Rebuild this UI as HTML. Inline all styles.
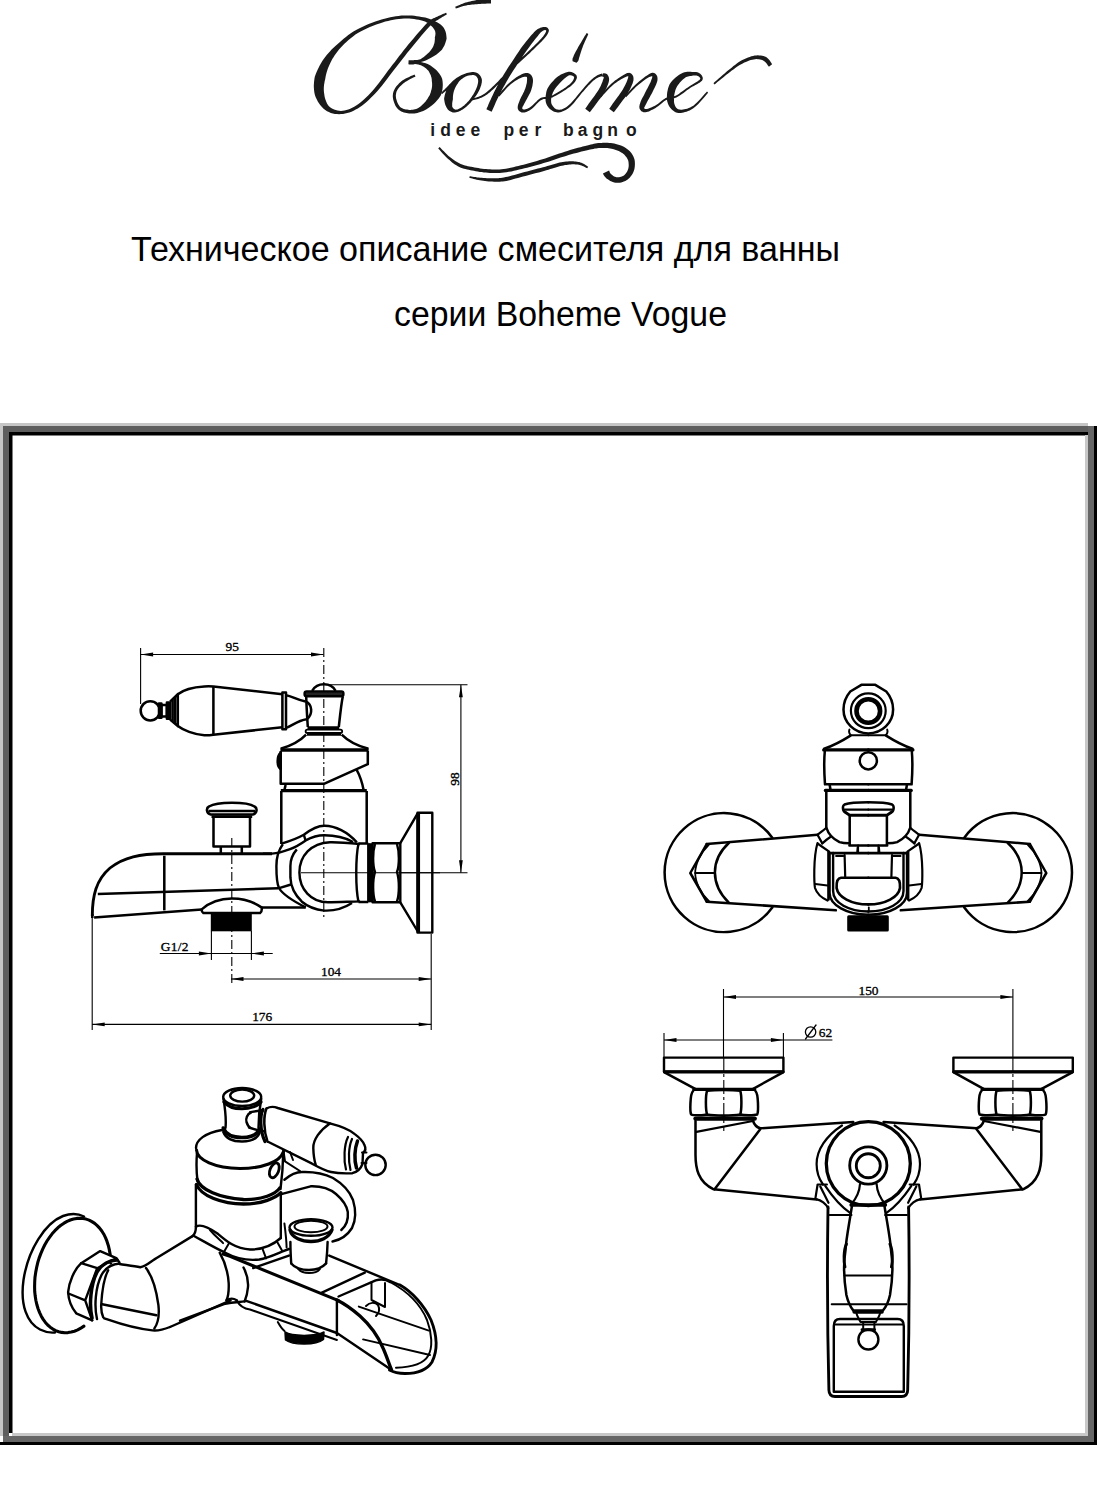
<!DOCTYPE html>
<html><head><meta charset="utf-8"><title>Boheme Vogue</title>
<style>
html,body{margin:0;padding:0;background:#fff;}
body{width:1097px;height:1500px;overflow:hidden;position:relative;font-family:"Liberation Sans",sans-serif;}
svg{position:absolute;left:0;top:0;}
.t{font-family:"Liberation Sans",sans-serif;fill:#000;}
.d{fill:none;stroke:#000;stroke-width:2;stroke-linejoin:round;stroke-linecap:round;}
.th{fill:none;stroke:#000;stroke-width:1;}
.dim{font-family:"Liberation Serif",serif;font-size:13px;fill:#000;}
</style></head>
<body>
<svg width="1097" height="1500" viewBox="0 0 1097 1500">
<!-- frame -->
<g id="frame">
<rect x="0" y="423" width="1088" height="3" fill="#c6c6c6"/>
<rect x="0" y="423" width="3" height="1013" fill="#c6c6c6"/>
<rect x="3" y="426" width="1091" height="6" fill="#5e5e5e"/>
<rect x="3" y="426" width="6" height="1016" fill="#5e5e5e"/>
<rect x="9" y="432" width="1079" height="3.5" fill="#000"/>
<rect x="9" y="432" width="3.5" height="1001" fill="#000"/>
<rect x="1085" y="435" width="3" height="1001" fill="#c8c8c8"/>
<rect x="12" y="1433" width="1076" height="3" fill="#c8c8c8"/>
<rect x="1088" y="426" width="6" height="1016" fill="#666"/>
<rect x="3" y="1436" width="1091" height="6" fill="#666"/>
<rect x="1094" y="426" width="3" height="1019" fill="#000"/>
<rect x="0" y="1442" width="1097" height="3" fill="#000"/>
</g>
<!-- titles -->
<text class="t" x="131" y="261" font-size="35" textLength="709" lengthAdjust="spacingAndGlyphs">Техническое описание смесителя для ванны</text>
<text class="t" x="394" y="325.5" font-size="35" textLength="333" lengthAdjust="spacingAndGlyphs">серии Boheme Vogue</text>
<g id="logo" fill="#1a1a1a" stroke="none">
<path d="M446.1,12.8 L445.4,13.0 L444.5,13.4 L443.5,13.8 L442.3,14.3 L441.0,14.9 L439.7,15.5 L438.4,16.1 L437.2,16.7 L436.2,17.1 L435.3,17.5 L434.4,17.9 L433.3,18.3 L432.1,19.0 L430.8,19.8 L429.3,21.0 L427.6,22.6 L425.6,24.6 L423.4,27.0 L421.0,29.7 L418.5,32.6 L415.9,35.6 L413.3,38.7 L410.7,41.7 L408.3,44.6 L406.0,47.4 L403.7,50.3 L401.5,53.2 L399.2,56.1 L397.0,59.0 L394.8,61.9 L392.5,64.8 L390.3,67.7 L388.1,70.6 L385.8,73.7 L383.6,76.7 L381.3,79.8 L379.1,82.7 L376.9,85.6 L374.7,88.3 L372.6,90.7 L370.5,93.0 L368.4,95.2 L366.3,97.3 L364.2,99.3 L362.2,101.1 L360.1,102.8 L358.1,104.3 L356.2,105.6 L354.2,106.8 L352.2,107.8 L350.2,108.7 L348.3,109.5 L346.4,110.0 L344.5,110.5 L342.7,110.8 L340.9,110.9 L339.2,110.8 L337.5,110.5 L335.7,110.0 L334.1,109.5 L332.5,108.8 L331.1,107.9 L329.8,107.0 L328.7,106.0 L327.8,104.8 L327.0,103.4 L326.3,101.8 L325.6,100.0 L325.0,98.2 L324.6,96.4 L324.3,94.6 L324.1,92.9 L323.9,91.4 L323.8,89.8 L323.8,88.1 L323.9,86.4 L324.1,84.6 L324.4,82.9 L324.7,81.0 L325.2,79.2 L325.5,77.3 L325.9,75.3 L326.4,73.3 L327.0,71.2 L327.7,69.1 L328.5,67.0 L329.4,65.0 L330.3,63.0 L331.3,61.0 L332.3,59.1 L333.5,57.2 L334.7,55.3 L336.0,53.4 L337.5,51.5 L339.0,49.6 L340.6,47.7 L342.5,45.8 L344.4,43.8 L346.4,41.9 L348.5,40.0 L350.7,38.2 L353.0,36.4 L355.4,34.6 L357.9,33.0 L360.6,31.5 L363.6,30.0 L366.7,28.5 L369.9,27.1 L373.1,25.8 L376.3,24.6 L379.5,23.5 L382.5,22.5 L385.3,21.6 L388.1,20.9 L390.9,20.3 L393.6,19.7 L396.3,19.3 L399.0,19.0 L401.5,18.7 L404.1,18.5 L406.6,18.5 L409.1,18.6 L411.6,18.8 L414.1,19.1 L416.4,19.4 L418.7,19.8 L420.7,20.3 L422.6,20.7 L424.2,21.2 L425.6,21.8 L426.7,22.4 L427.8,23.1 L428.7,23.7 L429.6,24.4 L430.5,25.2 L431.4,25.9 L432.2,26.8 L432.9,27.6 L433.6,28.4 L434.1,29.3 L434.6,30.1 L435.0,30.9 L435.2,31.6 L435.3,32.2 L435.4,32.8 L435.5,33.3 L435.4,33.9 L435.4,34.5 L435.3,35.2 L435.2,35.9 L435.0,36.7 L434.8,37.5 L434.9,38.3 L434.9,39.2 L434.8,40.1 L434.7,41.1 L434.6,42.0 L434.4,42.9 L434.2,43.8 L433.9,44.6 L433.6,45.5 L433.2,46.4 L432.8,47.3 L432.2,48.3 L431.5,49.3 L430.8,50.3 L430.0,51.2 L429.2,52.2 L428.3,53.1 L427.2,54.1 L426.1,55.1 L424.9,56.0 L423.8,56.9 L422.6,57.7 L421.5,58.5 L420.4,59.2 L419.4,59.5 L418.3,59.7 L417.3,59.9 L416.3,60.0 L415.4,60.1 L414.4,60.1 L413.6,60.2 L412.7,60.2 L412.1,60.3 L411.5,60.3 L410.9,60.3 L410.3,60.3 L409.8,60.3 L409.4,60.3 L408.9,60.3 L408.6,60.3 L408.4,64.3 L408.7,64.3 L409.1,64.4 L409.6,64.4 L410.2,64.5 L410.8,64.5 L411.6,64.5 L412.4,64.5 L413.3,64.4 L414.1,64.2 L415.0,64.0 L415.9,63.8 L417.0,63.5 L418.1,63.2 L419.2,62.8 L420.4,62.4 L421.6,61.8 L422.9,61.4 L424.3,60.9 L425.7,60.4 L427.2,59.7 L428.6,59.0 L430.1,58.3 L431.5,57.6 L432.8,56.8 L434.1,56.1 L435.3,55.3 L436.5,54.5 L437.7,53.6 L438.9,52.6 L440.0,51.6 L441.1,50.6 L442.1,49.4 L442.9,48.1 L443.7,46.8 L444.4,45.4 L445.0,44.0 L445.5,42.6 L445.9,41.2 L446.3,39.9 L446.6,38.5 L446.5,37.2 L446.4,35.9 L446.2,34.5 L446.0,33.2 L445.6,31.8 L445.1,30.4 L444.4,29.1 L443.7,27.8 L442.7,26.6 L441.7,25.6 L440.6,24.6 L439.5,23.8 L438.3,23.0 L437.1,22.3 L435.9,21.7 L434.6,21.1 L433.5,20.5 L432.3,19.9 L431.1,19.4 L429.8,18.9 L428.4,18.4 L426.9,18.0 L425.2,17.6 L423.4,17.3 L421.4,16.9 L419.2,16.5 L416.9,16.2 L414.4,15.8 L411.9,15.6 L409.3,15.4 L406.6,15.4 L403.9,15.5 L401.3,15.6 L398.6,15.9 L395.9,16.2 L393.1,16.7 L390.3,17.2 L387.4,17.9 L384.5,18.7 L381.5,19.5 L378.5,20.5 L375.3,21.6 L372.0,22.8 L368.6,24.1 L365.3,25.5 L362.1,26.9 L359.0,28.4 L356.1,30.0 L353.4,31.6 L350.8,33.3 L348.3,35.1 L345.9,36.9 L343.6,38.8 L341.4,40.7 L339.4,42.5 L337.4,44.3 L335.4,46.1 L333.5,47.8 L331.6,49.6 L329.9,51.4 L328.3,53.3 L326.7,55.1 L325.2,57.1 L323.7,59.0 L322.3,61.1 L321.0,63.3 L319.7,65.5 L318.6,67.7 L317.5,70.0 L316.5,72.2 L315.6,74.5 L314.8,76.8 L314.4,79.1 L314.1,81.4 L313.9,83.7 L313.8,86.0 L313.9,88.3 L314.1,90.6 L314.4,92.8 L314.9,95.1 L315.7,97.2 L316.7,99.3 L317.8,101.4 L319.1,103.4 L320.4,105.3 L321.9,107.1 L323.6,108.7 L325.3,110.0 L327.0,111.2 L328.9,112.1 L330.8,112.9 L332.8,113.5 L334.9,113.9 L337.0,114.1 L339.0,114.2 L341.1,114.1 L343.1,114.0 L345.1,113.6 L347.2,113.1 L349.3,112.5 L351.5,111.7 L353.6,110.7 L355.7,109.6 L357.8,108.4 L360.0,107.0 L362.2,105.4 L364.4,103.7 L366.5,101.9 L368.7,99.9 L370.9,97.8 L373.2,95.6 L375.4,93.3 L377.7,90.8 L380.0,88.0 L382.3,85.2 L384.6,82.2 L386.9,79.2 L389.1,76.2 L391.4,73.2 L393.7,70.3 L395.9,67.4 L398.2,64.5 L400.4,61.7 L402.7,58.8 L404.9,55.9 L407.1,53.0 L409.4,50.2 L411.7,47.4 L414.1,44.5 L416.6,41.4 L419.1,38.4 L421.7,35.3 L424.1,32.4 L426.5,29.7 L428.6,27.4 L430.4,25.4 L431.9,23.9 L433.1,22.8 L434.1,22.1 L435.0,21.5 L435.8,21.0 L436.7,20.5 L437.7,20.0 L438.8,19.3 L439.9,18.6 L441.0,17.9 L442.2,17.1 L443.4,16.4 L444.5,15.8 L445.4,15.2 L446.3,14.7 L446.9,14.2Z"/>
<path d="M409.9,63.6 L410.8,63.7 L412.1,63.9 L413.5,64.0 L415.1,64.1 L416.7,64.3 L418.3,64.6 L419.8,64.9 L421.0,65.3 L422.2,65.9 L423.3,66.5 L424.4,67.2 L425.5,68.0 L426.4,68.8 L427.3,69.7 L428.2,70.6 L428.9,71.5 L429.5,72.7 L430.1,73.9 L430.7,75.1 L431.1,76.4 L431.5,77.7 L431.7,78.9 L431.8,80.1 L431.8,81.1 L432.0,82.2 L432.1,83.4 L432.1,84.7 L432.1,86.1 L431.9,87.4 L431.7,88.7 L431.4,90.0 L431.0,91.1 L430.8,92.3 L430.3,93.5 L429.8,94.9 L429.0,96.2 L428.2,97.6 L427.4,99.0 L426.4,100.2 L425.6,101.5 L424.6,102.5 L423.7,103.6 L422.6,104.6 L421.6,105.5 L420.5,106.4 L419.4,107.2 L418.3,107.9 L417.3,108.5 L416.2,108.9 L415.0,109.2 L413.9,109.5 L412.8,109.7 L411.6,109.8 L410.5,109.9 L409.3,109.9 L408.2,109.8 L407.1,109.6 L405.9,109.5 L404.8,109.2 L403.7,108.9 L402.7,108.5 L401.7,108.1 L400.8,107.5 L400.1,106.9 L399.4,106.1 L398.7,105.1 L398.1,104.0 L397.5,102.7 L397.0,101.4 L396.6,100.1 L396.2,98.9 L396.0,97.8 L395.9,96.7 L395.8,95.8 L395.9,94.8 L396.0,93.9 L396.2,93.0 L396.4,92.1 L396.8,91.1 L397.2,90.2 L397.8,89.2 L398.5,88.3 L399.3,87.3 L400.2,86.3 L401.1,85.4 L402.1,84.4 L403.2,83.5 L404.3,82.7 L405.6,81.8 L407.0,80.9 L408.6,80.0 L410.3,79.1 L411.9,78.3 L413.3,77.6 L414.6,77.0 L415.5,76.5 L414.5,74.5 L413.6,74.9 L412.3,75.4 L410.8,76.1 L409.2,76.9 L407.4,77.7 L405.7,78.5 L404.1,79.4 L402.7,80.3 L401.4,81.3 L400.3,82.3 L399.1,83.3 L398.1,84.4 L397.1,85.5 L396.2,86.6 L395.4,87.7 L394.8,88.8 L394.2,89.9 L393.7,91.1 L393.3,92.2 L393.0,93.4 L392.9,94.5 L392.8,95.8 L392.8,97.0 L393.0,98.2 L393.2,99.6 L393.6,101.0 L394.1,102.4 L394.7,103.9 L395.3,105.4 L396.1,106.7 L397.0,108.0 L397.9,109.1 L399.0,110.0 L400.1,110.8 L401.3,111.5 L402.6,112.0 L403.9,112.4 L405.2,112.7 L406.5,113.0 L407.8,113.2 L409.1,113.4 L410.4,113.5 L411.7,113.6 L413.1,113.6 L414.5,113.4 L415.9,113.2 L417.3,112.9 L418.7,112.5 L420.2,112.1 L421.7,111.6 L423.2,111.0 L424.7,110.3 L426.1,109.5 L427.6,108.6 L429.1,107.6 L430.4,106.5 L431.8,105.5 L433.3,104.3 L434.7,103.0 L436.1,101.6 L437.4,100.1 L438.7,98.5 L439.9,96.7 L441.0,94.9 L441.6,92.9 L442.1,90.9 L442.5,88.9 L442.7,86.9 L442.8,84.8 L442.7,82.8 L442.5,80.8 L442.2,78.9 L441.4,77.0 L440.4,75.3 L439.4,73.7 L438.2,72.2 L437.0,70.8 L435.7,69.6 L434.4,68.5 L433.1,67.5 L431.8,66.5 L430.5,65.6 L429.1,64.8 L427.7,64.1 L426.3,63.6 L424.9,63.1 L423.4,62.7 L422.0,62.3 L420.4,62.0 L418.7,61.7 L417.0,61.6 L415.3,61.5 L413.6,61.4 L412.2,61.4 L411.0,61.4 L410.1,61.4Z"/>
<path d="M442.1,94.1 L442.5,93.8 L443.0,93.3 L443.6,92.8 L444.3,92.2 L445.1,91.6 L445.9,90.9 L446.8,90.1 L447.7,89.3 L448.7,88.4 L449.8,87.4 L450.9,86.3 L452.1,85.1 L453.3,84.0 L454.5,83.0 L455.7,82.0 L456.8,81.1 L458.0,80.3 L459.2,79.6 L460.4,78.9 L461.6,78.2 L462.9,77.6 L464.1,77.0 L465.3,76.6 L466.4,76.2 L467.6,75.8 L468.8,75.6 L470.1,75.3 L471.3,75.2 L472.4,75.1 L473.4,75.1 L474.3,75.2 L475.0,75.5 L475.6,75.8 L476.1,76.2 L476.7,76.7 L477.1,77.4 L477.5,78.0 L477.8,78.7 L478.0,79.5 L478.1,80.2 L478.2,81.0 L478.1,82.0 L478.0,83.1 L477.7,84.3 L477.4,85.5 L477.0,86.8 L476.5,88.1 L476.0,89.3 L475.4,90.5 L474.8,91.8 L474.1,93.1 L473.3,94.4 L472.5,95.6 L471.6,96.9 L470.8,98.1 L470.0,99.2 L469.2,100.2 L468.4,101.2 L467.5,102.1 L466.7,103.0 L465.9,103.8 L465.0,104.6 L464.2,105.4 L463.3,106.0 L462.3,106.7 L461.4,107.4 L460.4,108.0 L459.4,108.5 L458.4,109.0 L457.5,109.4 L456.6,109.6 L455.9,109.7 L455.2,109.5 L454.6,109.3 L454.0,108.9 L453.5,108.6 L453.0,108.1 L452.7,107.6 L452.4,107.1 L452.2,106.6 L452.2,106.0 L452.2,105.3 L452.2,104.4 L452.2,103.4 L452.3,102.4 L452.5,101.3 L452.7,100.2 L452.9,99.2 L452.9,98.2 L452.9,97.1 L453.0,96.0 L453.1,94.9 L453.3,93.8 L453.5,92.7 L453.8,91.6 L454.1,90.6 L454.5,89.5 L455.0,88.3 L455.6,87.0 L456.3,85.8 L457.0,84.6 L457.8,83.4 L458.5,82.3 L459.2,81.3 L460.0,80.5 L460.8,79.7 L461.7,79.1 L462.6,78.4 L463.5,77.8 L464.3,77.3 L465.0,76.9 L465.6,76.5 L464.4,74.5 L463.9,74.8 L463.1,75.1 L462.2,75.5 L461.2,76.0 L460.1,76.5 L459.0,77.2 L457.9,77.9 L456.8,78.7 L455.7,79.5 L454.5,80.4 L453.4,81.4 L452.2,82.5 L451.0,83.7 L449.9,84.9 L448.8,86.1 L447.9,87.4 L447.1,88.8 L446.4,90.2 L445.9,91.6 L445.4,93.1 L444.9,94.5 L444.6,96.0 L444.3,97.4 L444.1,98.8 L444.3,100.2 L444.5,101.6 L444.8,103.1 L445.2,104.5 L445.7,105.8 L446.3,107.1 L447.0,108.3 L447.8,109.4 L448.6,110.3 L449.6,111.1 L450.6,111.6 L451.7,112.1 L452.8,112.4 L453.9,112.5 L455.0,112.5 L456.1,112.3 L457.2,112.1 L458.3,111.8 L459.4,111.3 L460.5,110.7 L461.6,110.1 L462.7,109.4 L463.7,108.7 L464.7,108.0 L465.7,107.2 L466.6,106.4 L467.6,105.6 L468.5,104.8 L469.4,103.8 L470.3,102.9 L471.1,101.9 L472.0,100.8 L472.9,99.7 L473.9,98.5 L474.8,97.3 L475.8,96.0 L476.7,94.7 L477.5,93.4 L478.3,92.0 L479.0,90.7 L479.6,89.4 L480.2,88.0 L480.7,86.6 L481.2,85.2 L481.5,83.8 L481.8,82.4 L481.9,81.1 L481.9,79.8 L481.6,78.5 L481.2,77.4 L480.6,76.3 L479.9,75.3 L479.1,74.4 L478.1,73.6 L477.1,73.0 L476.0,72.5 L474.8,72.2 L473.6,72.1 L472.3,72.1 L470.9,72.2 L469.6,72.4 L468.2,72.7 L466.9,73.1 L465.6,73.4 L464.3,73.9 L463.0,74.4 L461.6,75.0 L460.3,75.7 L459.0,76.4 L457.7,77.2 L456.4,78.0 L455.2,78.9 L453.9,79.9 L452.7,81.0 L451.5,82.2 L450.3,83.4 L449.2,84.6 L448.2,85.7 L447.2,86.8 L446.3,87.7 L445.4,88.6 L444.6,89.4 L443.8,90.1 L443.1,90.8 L442.4,91.5 L441.8,92.0 L441.3,92.5 L440.9,92.9Z"/>
<path d="M472.2,100.4 L472.9,100.3 L473.7,100.1 L474.7,99.8 L475.8,99.6 L476.9,99.3 L478.1,98.9 L479.3,98.5 L480.4,98.1 L481.4,97.7 L482.3,97.3 L483.2,96.8 L484.2,96.3 L485.1,95.7 L486.1,95.1 L487.1,94.4 L488.2,93.6 L489.3,92.7 L490.5,91.7 L491.7,90.5 L493.0,89.4 L494.3,88.2 L495.5,87.0 L496.7,85.8 L497.8,84.8 L498.7,83.8 L499.6,82.8 L500.4,82.0 L501.2,81.1 L502.0,80.2 L502.8,79.3 L503.7,78.3 L504.8,77.2 L505.9,76.1 L507.1,74.9 L508.3,73.6 L509.5,72.3 L510.9,70.9 L512.3,69.5 L513.8,68.0 L515.4,66.4 L517.2,64.6 L519.2,62.8 L521.3,60.8 L523.5,58.8 L525.7,56.8 L527.8,54.8 L529.9,52.9 L531.7,51.1 L533.5,49.4 L535.2,47.7 L536.9,46.1 L538.5,44.6 L540.0,43.1 L541.4,41.7 L542.7,40.3 L543.9,39.0 L544.9,37.8 L545.8,36.7 L546.5,35.7 L547.2,34.7 L547.7,33.8 L548.2,32.9 L548.5,32.1 L548.8,31.2 L548.9,30.3 L548.7,29.4 L548.2,28.7 L547.7,28.1 L547.1,27.6 L546.4,27.3 L545.8,27.1 L545.2,27.0 L544.5,26.9 L543.7,26.9 L543.0,27.0 L542.3,27.2 L541.6,27.4 L540.8,27.6 L540.1,27.9 L539.5,28.3 L538.9,28.5 L538.3,28.8 L537.7,29.1 L537.1,29.5 L536.5,30.0 L535.8,30.6 L535.0,31.3 L534.0,32.3 L533.0,33.4 L531.7,34.8 L530.4,36.3 L529.0,38.0 L527.6,39.7 L526.1,41.6 L524.6,43.4 L523.2,45.2 L521.8,47.1 L520.4,49.1 L519.0,51.2 L517.6,53.2 L516.2,55.3 L514.8,57.4 L513.5,59.4 L512.2,61.4 L511.0,63.2 L509.8,65.0 L508.6,66.8 L507.5,68.6 L506.3,70.4 L505.2,72.2 L504.1,74.1 L502.9,76.0 L501.8,78.0 L500.6,80.0 L499.4,82.1 L498.3,84.2 L497.1,86.3 L496.0,88.4 L494.9,90.6 L493.8,92.7 L492.8,94.9 L491.7,97.3 L490.6,99.7 L489.5,102.1 L488.5,104.3 L487.7,106.4 L486.9,108.1 L486.4,109.3 L491.6,111.7 L492.2,110.4 L493.0,108.7 L493.9,106.7 L494.9,104.5 L495.9,102.1 L497.0,99.8 L498.1,97.5 L499.2,95.3 L500.2,93.3 L501.3,91.2 L502.4,89.1 L503.5,87.1 L504.7,85.0 L505.8,83.0 L506.9,81.0 L508.1,79.0 L509.2,77.1 L510.3,75.3 L511.4,73.6 L512.5,71.8 L513.6,70.1 L514.8,68.3 L516.0,66.5 L517.2,64.6 L518.5,62.7 L519.8,60.7 L521.2,58.6 L522.5,56.6 L523.9,54.5 L525.3,52.5 L526.7,50.6 L528.0,48.8 L529.3,46.9 L530.7,45.1 L532.0,43.3 L533.4,41.5 L534.7,39.8 L535.9,38.3 L537.0,36.9 L538.0,35.7 L538.7,34.8 L539.3,34.0 L539.8,33.5 L540.1,33.1 L540.4,32.7 L540.7,32.4 L541.1,32.1 L541.5,31.7 L542.0,31.4 L542.5,31.1 L543.0,30.8 L543.5,30.5 L543.9,30.3 L544.3,30.2 L544.6,30.1 L544.8,30.0 L545.1,30.1 L545.4,30.1 L545.7,30.2 L545.9,30.3 L546.1,30.4 L546.2,30.5 L546.2,30.5 L546.2,30.8 L546.1,31.2 L545.9,31.9 L545.6,32.6 L545.1,33.4 L544.6,34.3 L543.9,35.3 L543.1,36.4 L542.1,37.6 L541.1,38.8 L539.8,40.1 L538.5,41.5 L537.0,43.0 L535.4,44.6 L533.7,46.2 L532.0,47.8 L530.3,49.5 L528.4,51.3 L526.4,53.2 L524.2,55.2 L522.0,57.2 L519.9,59.3 L517.8,61.2 L515.8,63.1 L514.0,64.8 L512.3,66.4 L510.8,68.0 L509.4,69.4 L508.0,70.8 L506.7,72.1 L505.5,73.4 L504.4,74.6 L503.2,75.8 L502.2,76.9 L501.3,77.9 L500.4,78.8 L499.6,79.7 L498.9,80.5 L498.1,81.4 L497.2,82.3 L496.2,83.2 L495.2,84.3 L494.0,85.4 L492.8,86.6 L491.6,87.8 L490.3,89.0 L489.1,90.1 L487.9,91.1 L486.8,92.0 L485.8,92.7 L484.9,93.4 L484.0,94.0 L483.1,94.5 L482.3,95.0 L481.4,95.4 L480.5,95.9 L479.6,96.3 L478.6,96.7 L477.6,97.0 L476.4,97.4 L475.3,97.7 L474.2,98.0 L473.2,98.2 L472.4,98.4 L471.8,98.6Z"/>
<path d="M499.2,96.6 L500.0,95.7 L501.1,94.5 L502.4,93.0 L503.8,91.4 L505.3,89.7 L506.8,88.0 L508.3,86.5 L509.7,85.2 L511.0,84.1 L512.4,83.1 L513.7,82.0 L515.1,81.1 L516.4,80.2 L517.7,79.4 L518.9,78.7 L520.1,78.2 L521.2,77.7 L522.3,77.3 L523.4,77.0 L524.3,76.8 L525.2,76.7 L525.9,76.7 L526.4,76.8 L526.7,76.9 L526.9,77.1 L526.9,77.3 L527.0,77.6 L527.0,77.9 L527.1,78.3 L527.1,78.8 L527.1,79.5 L527.0,80.1 L527.0,80.9 L526.9,81.8 L526.8,82.9 L526.5,84.0 L526.2,85.2 L525.9,86.5 L525.5,87.7 L525.1,88.9 L524.6,90.1 L524.1,91.4 L523.4,92.8 L522.7,94.3 L521.9,95.7 L521.2,97.1 L520.5,98.5 L519.9,99.8 L519.5,100.9 L519.1,102.0 L518.7,103.0 L518.3,104.0 L518.0,105.0 L517.8,106.1 L517.7,107.1 L517.7,108.2 L518.0,109.2 L518.5,110.2 L519.1,110.9 L519.9,111.6 L520.7,112.1 L521.6,112.4 L522.5,112.5 L523.5,112.5 L524.4,112.4 L525.3,112.2 L526.3,111.9 L527.3,111.5 L528.4,111.0 L529.4,110.4 L530.5,109.7 L531.6,108.9 L532.8,107.9 L534.1,106.8 L535.3,105.5 L536.6,104.1 L537.9,102.8 L539.2,101.6 L540.4,100.6 L541.5,99.9 L542.5,99.4 L543.5,99.1 L544.5,99.0 L545.6,99.0 L546.8,98.9 L548.0,98.8 L549.4,98.6 L550.8,98.1 L552.4,97.4 L554.0,96.6 L555.7,95.7 L557.5,94.7 L559.2,93.7 L560.9,92.7 L562.5,91.7 L564.0,90.8 L565.4,89.9 L566.7,89.0 L568.0,88.1 L569.3,87.2 L570.4,86.4 L571.5,85.5 L572.5,84.6 L573.3,83.8 L574.1,82.9 L574.8,82.0 L575.4,81.2 L575.9,80.3 L576.3,79.5 L576.7,78.6 L576.9,77.8 L576.9,76.9 L576.7,75.9 L576.3,75.1 L575.7,74.5 L575.1,73.9 L574.4,73.5 L573.8,73.1 L573.1,72.8 L572.6,72.6 L572.0,72.3 L571.5,72.1 L570.9,71.9 L570.2,71.7 L569.4,71.7 L568.6,71.8 L567.7,71.9 L566.8,72.2 L565.8,72.5 L564.6,72.9 L563.4,73.4 L562.2,74.0 L560.9,74.6 L559.5,75.4 L558.2,76.3 L556.9,77.2 L555.7,78.3 L554.4,79.5 L553.2,80.9 L551.9,82.3 L550.6,83.7 L549.5,85.3 L548.4,86.9 L547.5,88.6 L546.8,90.3 L546.3,92.1 L546.0,93.9 L545.7,95.7 L545.5,97.5 L545.5,99.2 L545.6,100.9 L545.9,102.5 L546.4,104.0 L547.1,105.4 L548.0,106.7 L548.9,107.9 L549.9,108.9 L551.0,109.8 L552.0,110.6 L553.1,111.2 L554.2,111.7 L555.3,112.1 L556.5,112.3 L557.7,112.4 L558.8,112.4 L560.0,112.2 L561.2,111.9 L562.3,111.6 L563.5,111.1 L564.6,110.6 L565.8,110.0 L566.9,109.2 L568.1,108.4 L569.3,107.4 L570.5,106.4 L571.7,105.2 L573.0,103.9 L574.3,102.4 L575.6,100.8 L577.0,99.1 L578.3,97.4 L579.7,95.7 L581.0,94.1 L582.2,92.6 L583.5,91.2 L584.7,89.7 L586.0,88.3 L587.2,86.9 L588.4,85.6 L589.6,84.4 L590.7,83.2 L591.7,82.2 L592.7,81.3 L593.5,80.6 L594.4,79.9 L595.2,79.3 L595.9,78.8 L596.6,78.3 L597.4,77.9 L598.0,77.5 L598.7,77.2 L599.4,76.9 L600.1,76.7 L600.7,76.6 L601.4,76.4 L602.0,76.3 L602.5,76.3 L602.9,76.2 L602.1,73.4 L601.8,73.6 L601.3,73.7 L600.7,73.9 L600.1,74.1 L599.3,74.4 L598.5,74.7 L597.7,75.1 L597.0,75.5 L596.2,76.0 L595.5,76.5 L594.7,77.0 L593.9,77.6 L593.1,78.3 L592.2,79.0 L591.3,79.8 L590.3,80.8 L589.2,81.8 L588.1,83.0 L587.0,84.3 L585.8,85.6 L584.5,87.0 L583.3,88.5 L582.0,89.9 L580.8,91.4 L579.5,92.9 L578.2,94.5 L576.8,96.2 L575.5,97.9 L574.1,99.6 L572.8,101.1 L571.5,102.6 L570.3,103.8 L569.1,104.8 L568.0,105.8 L566.8,106.7 L565.7,107.4 L564.7,108.1 L563.7,108.6 L562.6,109.1 L561.7,109.4 L560.7,109.6 L559.7,109.7 L558.8,109.7 L557.9,109.6 L557.0,109.4 L556.3,109.2 L555.5,108.8 L554.9,108.4 L554.2,107.8 L553.6,107.1 L552.9,106.2 L552.3,105.3 L551.8,104.4 L551.4,103.4 L551.2,102.4 L551.1,101.5 L551.1,100.5 L551.1,99.3 L551.3,98.0 L551.6,96.7 L551.9,95.3 L552.4,93.9 L552.9,92.6 L553.5,91.4 L554.1,90.3 L554.9,89.0 L555.8,87.7 L556.8,86.4 L557.9,85.2 L559.0,83.9 L560.1,82.8 L561.1,81.8 L562.0,80.8 L562.9,79.9 L563.9,79.0 L564.8,78.2 L565.8,77.5 L566.7,76.8 L567.5,76.2 L568.2,75.8 L568.8,75.5 L569.3,75.3 L569.6,75.2 L569.9,75.2 L570.2,75.2 L570.6,75.2 L571.0,75.3 L571.4,75.4 L571.9,75.6 L572.4,75.8 L572.9,76.1 L573.3,76.3 L573.7,76.6 L573.9,76.8 L574.0,77.0 L574.1,77.1 L574.1,77.4 L574.0,77.9 L573.9,78.5 L573.6,79.2 L573.3,79.9 L572.8,80.7 L572.3,81.5 L571.7,82.2 L570.9,83.0 L570.1,83.9 L569.1,84.7 L568.0,85.6 L566.8,86.5 L565.6,87.4 L564.3,88.3 L563.0,89.2 L561.5,90.1 L560.0,91.1 L558.3,92.1 L556.6,93.1 L554.8,94.1 L553.2,94.9 L551.6,95.7 L550.2,96.3 L548.9,96.7 L547.8,96.9 L546.7,97.0 L545.5,97.0 L544.4,97.1 L543.1,97.2 L541.9,97.5 L540.5,98.1 L539.2,99.0 L537.8,100.1 L536.5,101.4 L535.1,102.7 L533.8,104.0 L532.6,105.2 L531.4,106.3 L530.4,107.1 L529.3,107.7 L528.3,108.3 L527.3,108.7 L526.4,109.0 L525.5,109.3 L524.7,109.4 L524.0,109.5 L523.5,109.5 L523.1,109.3 L522.8,109.2 L522.6,108.9 L522.4,108.7 L522.3,108.4 L522.2,108.2 L522.2,108.0 L522.3,107.8 L522.3,107.6 L522.5,107.2 L522.7,106.6 L523.1,106.0 L523.5,105.2 L524.0,104.3 L524.5,103.3 L525.1,102.2 L525.7,101.1 L526.3,99.9 L527.1,98.5 L527.9,97.1 L528.7,95.6 L529.5,94.1 L530.3,92.6 L530.9,91.1 L531.4,89.6 L531.8,88.1 L532.2,86.7 L532.5,85.2 L532.7,83.8 L532.9,82.4 L533.0,81.1 L533.0,79.9 L532.8,78.7 L532.5,77.6 L532.0,76.6 L531.5,75.6 L530.8,74.7 L530.0,74.0 L529.0,73.4 L527.9,73.1 L526.7,72.9 L525.6,73.0 L524.6,73.3 L523.5,73.6 L522.3,74.0 L521.2,74.6 L520.1,75.2 L518.9,75.8 L517.7,76.5 L516.4,77.3 L515.1,78.2 L513.8,79.2 L512.4,80.3 L511.0,81.4 L509.7,82.5 L508.3,83.8 L506.9,85.1 L505.4,86.7 L503.9,88.4 L502.4,90.1 L500.9,91.7 L499.7,93.2 L498.6,94.5 L497.8,95.4Z"/>
<path d="M602.1,76.2 L602.4,76.4 L602.8,76.6 L603.2,76.7 L603.5,76.9 L603.7,77.1 L603.9,77.3 L603.8,77.4 L603.6,77.4 L603.6,77.5 L603.7,77.8 L603.6,78.0 L603.6,78.2 L603.6,78.4 L603.5,78.7 L603.3,79.1 L603.1,79.8 L602.8,80.6 L602.5,81.7 L602.0,82.8 L601.5,84.1 L600.9,85.4 L600.3,86.8 L599.6,88.1 L598.8,89.4 L598.0,90.8 L597.0,92.3 L595.9,93.8 L594.8,95.4 L593.7,96.9 L592.5,98.4 L591.4,99.9 L590.5,101.2 L589.6,102.4 L588.8,103.6 L588.0,104.7 L587.3,105.7 L586.7,106.7 L586.1,107.5 L585.6,108.2 L585.2,108.8 L589.8,112.2 L590.2,111.7 L590.8,111.0 L591.4,110.2 L592.1,109.3 L592.9,108.3 L593.7,107.2 L594.6,106.0 L595.5,104.8 L596.4,103.5 L597.5,102.1 L598.6,100.6 L599.8,99.0 L601.0,97.4 L602.2,95.7 L603.2,94.1 L604.2,92.6 L605.0,91.0 L605.8,89.5 L606.5,88.0 L607.1,86.5 L607.7,85.0 L608.2,83.7 L608.6,82.4 L608.9,81.2 L609.1,80.1 L609.1,79.1 L609.0,78.1 L608.8,77.2 L608.5,76.4 L608.2,75.7 L607.8,75.2 L607.4,74.6 L606.7,74.0 L605.8,73.6 L605.1,73.4 L604.4,73.3 L603.9,73.3 L603.4,73.3 L603.1,73.4 L602.9,73.4Z"/>
<path d="M601.2,97.2 L602.1,96.2 L603.3,94.8 L604.8,93.2 L606.4,91.4 L608.2,89.6 L609.9,87.8 L611.6,86.2 L613.2,84.8 L614.7,83.6 L616.3,82.4 L617.9,81.3 L619.6,80.2 L621.1,79.3 L622.6,78.5 L624.0,77.7 L625.1,77.2 L626.1,76.8 L626.9,76.5 L627.5,76.3 L628.0,76.3 L628.3,76.4 L628.4,76.5 L628.4,76.6 L628.4,76.7 L628.3,76.8 L628.3,76.9 L628.2,77.1 L628.2,77.4 L628.1,77.7 L628.0,78.1 L627.9,78.6 L627.6,79.3 L627.3,80.2 L626.9,81.2 L626.4,82.5 L625.8,83.8 L625.1,85.2 L624.4,86.6 L623.6,88.0 L622.8,89.4 L622.0,90.8 L621.0,92.3 L619.9,93.8 L618.8,95.4 L617.6,96.9 L616.5,98.4 L615.4,99.9 L614.5,101.2 L613.6,102.4 L612.8,103.6 L612.0,104.7 L611.3,105.7 L610.7,106.7 L610.1,107.5 L609.6,108.2 L609.2,108.8 L613.8,112.2 L614.2,111.7 L614.8,111.0 L615.4,110.2 L616.1,109.3 L616.9,108.3 L617.7,107.2 L618.6,106.0 L619.5,104.8 L620.4,103.6 L621.5,102.1 L622.6,100.6 L623.8,99.1 L625.0,97.4 L626.1,95.8 L627.2,94.2 L628.2,92.6 L629.0,91.0 L629.9,89.5 L630.6,87.9 L631.4,86.3 L632.0,84.8 L632.6,83.4 L633.0,82.0 L633.4,80.7 L633.5,79.5 L633.5,78.3 L633.4,77.2 L633.1,76.1 L632.6,75.2 L632.1,74.4 L631.4,73.8 L630.6,73.3 L629.9,73.0 L629.0,72.8 L628.2,72.9 L627.4,73.1 L626.6,73.3 L625.8,73.7 L624.9,74.2 L623.9,74.8 L622.7,75.5 L621.4,76.3 L619.9,77.3 L618.3,78.3 L616.7,79.4 L615.0,80.6 L613.4,81.9 L611.8,83.2 L610.2,84.7 L608.5,86.4 L606.8,88.3 L605.1,90.2 L603.4,92.0 L602.0,93.6 L600.8,95.0 L599.8,96.0Z"/>
<path d="M626.1,97.2 L627.0,96.3 L628.2,95.1 L629.5,93.6 L631.0,92.0 L632.6,90.3 L634.2,88.7 L635.8,87.1 L637.3,85.7 L638.8,84.5 L640.4,83.2 L642.0,82.0 L643.6,80.8 L645.2,79.6 L646.7,78.6 L648.0,77.8 L649.2,77.1 L650.1,76.7 L650.9,76.4 L651.5,76.3 L652.0,76.3 L652.2,76.3 L652.3,76.4 L652.3,76.6 L652.3,76.7 L652.3,76.8 L652.3,76.9 L652.2,77.1 L652.2,77.4 L652.1,77.7 L652.0,78.1 L651.9,78.6 L651.6,79.3 L651.3,80.1 L650.9,81.2 L650.4,82.4 L649.7,83.7 L649.0,85.2 L648.2,86.7 L647.5,88.2 L646.7,89.6 L646.0,91.1 L645.2,92.6 L644.4,94.3 L643.5,95.9 L642.6,97.5 L641.8,99.1 L641.1,100.5 L640.6,101.8 L640.2,102.9 L639.9,103.9 L639.6,104.8 L639.5,105.7 L639.3,106.6 L639.4,107.5 L639.5,108.5 L639.9,109.3 L640.4,110.1 L641.0,110.8 L641.7,111.4 L642.6,111.8 L643.5,112.2 L644.5,112.3 L645.6,112.3 L646.6,112.1 L647.8,111.8 L649.0,111.4 L650.2,110.8 L651.5,110.1 L652.9,109.4 L654.2,108.7 L655.6,107.9 L656.8,107.1 L658.1,106.2 L659.3,105.3 L660.6,104.2 L661.8,103.2 L663.0,102.2 L664.1,101.3 L665.3,100.5 L666.4,99.9 L667.5,99.4 L668.6,99.2 L669.7,99.0 L670.8,98.9 L672.1,98.8 L673.4,98.5 L674.9,98.1 L676.4,97.4 L678.1,96.5 L679.8,95.4 L681.6,94.2 L683.5,92.9 L685.4,91.5 L687.2,90.1 L688.9,88.9 L690.5,87.8 L692.1,86.8 L693.8,85.9 L695.4,85.0 L697.0,84.2 L698.5,83.3 L699.9,82.5 L701.0,81.6 L702.0,80.7 L702.6,79.6 L702.8,78.5 L702.7,77.4 L702.3,76.4 L701.8,75.5 L701.2,74.7 L700.5,74.1 L699.8,73.5 L699.0,73.0 L698.1,72.6 L697.2,72.3 L696.1,72.1 L695.1,72.0 L694.0,71.9 L692.9,71.9 L691.9,71.9 L690.9,71.8 L689.8,71.8 L688.6,71.7 L687.3,71.7 L686.0,71.9 L684.5,72.2 L683.0,72.7 L681.5,73.4 L680.0,74.2 L678.5,75.3 L676.9,76.4 L675.3,77.8 L673.7,79.2 L672.2,80.8 L670.8,82.4 L669.6,84.2 L668.8,86.2 L668.1,88.3 L667.6,90.4 L667.2,92.5 L667.0,94.6 L666.9,96.6 L666.9,98.5 L667.0,100.3 L667.4,102.0 L667.9,103.6 L668.5,105.1 L669.3,106.4 L670.2,107.7 L671.1,108.8 L672.0,109.7 L673.0,110.5 L674.0,111.3 L675.0,111.9 L676.1,112.4 L677.2,112.7 L678.4,112.9 L679.6,113.0 L680.9,112.9 L682.2,112.7 L683.5,112.5 L685.0,112.1 L686.5,111.7 L688.1,111.1 L689.7,110.4 L691.3,109.6 L693.0,108.6 L694.6,107.3 L696.4,105.8 L698.3,104.0 L700.3,101.8 L702.3,99.6 L704.1,97.5 L705.8,95.5 L707.2,93.8 L708.2,92.7 L707.0,91.5 L705.9,92.7 L704.4,94.3 L702.7,96.3 L700.8,98.4 L698.9,100.5 L696.9,102.5 L695.0,104.3 L693.4,105.7 L691.8,106.6 L690.2,107.5 L688.7,108.1 L687.2,108.7 L685.7,109.1 L684.3,109.3 L683.0,109.5 L681.8,109.7 L680.8,109.7 L679.8,109.6 L679.0,109.4 L678.3,109.2 L677.6,108.9 L677.1,108.5 L676.5,108.0 L676.0,107.5 L675.6,106.7 L675.1,105.9 L674.8,105.0 L674.4,104.0 L674.2,103.0 L674.0,101.9 L674.0,100.9 L674.0,99.7 L674.0,98.5 L674.1,96.9 L674.2,95.3 L674.5,93.7 L674.9,92.0 L675.3,90.4 L675.8,89.0 L676.4,87.8 L677.0,86.5 L677.8,85.2 L678.8,83.9 L679.9,82.5 L681.1,81.3 L682.3,80.1 L683.5,79.1 L684.5,78.2 L685.4,77.6 L686.2,77.1 L687.1,76.8 L688.0,76.5 L689.0,76.2 L690.0,76.0 L691.1,75.9 L692.1,75.7 L693.1,75.6 L694.0,75.6 L694.9,75.5 L695.7,75.6 L696.5,75.6 L697.2,75.7 L697.7,75.9 L698.2,76.1 L698.6,76.4 L699.1,76.8 L699.6,77.2 L699.9,77.7 L700.2,78.1 L700.3,78.5 L700.2,78.8 L700.0,79.3 L699.5,79.9 L698.6,80.6 L697.4,81.4 L696.0,82.3 L694.4,83.2 L692.8,84.2 L691.1,85.2 L689.5,86.2 L687.8,87.4 L686.1,88.6 L684.2,90.0 L682.4,91.3 L680.5,92.6 L678.8,93.9 L677.1,94.9 L675.6,95.8 L674.2,96.3 L673.0,96.7 L671.8,96.9 L670.6,97.0 L669.4,97.1 L668.2,97.3 L666.9,97.6 L665.6,98.1 L664.3,98.9 L663.0,99.8 L661.7,100.7 L660.5,101.7 L659.3,102.7 L658.1,103.7 L656.9,104.6 L655.8,105.3 L654.5,106.0 L653.2,106.6 L651.8,107.3 L650.5,107.8 L649.2,108.3 L648.0,108.7 L647.0,109.0 L646.2,109.1 L645.5,109.0 L645.1,108.9 L644.7,108.7 L644.4,108.5 L644.2,108.3 L644.1,108.0 L644.1,107.8 L644.1,107.7 L644.2,107.6 L644.3,107.5 L644.4,107.4 L644.5,107.1 L644.8,106.6 L645.1,105.9 L645.5,105.1 L646.0,104.2 L646.6,103.1 L647.2,101.8 L648.0,100.3 L648.9,98.8 L649.7,97.2 L650.6,95.5 L651.5,93.9 L652.3,92.4 L653.0,90.9 L653.7,89.4 L654.5,87.9 L655.2,86.4 L655.9,84.9 L656.5,83.5 L657.0,82.1 L657.4,80.7 L657.5,79.5 L657.5,78.3 L657.4,77.2 L657.1,76.1 L656.6,75.2 L656.1,74.4 L655.4,73.8 L654.7,73.3 L653.9,73.0 L653.1,72.8 L652.2,72.8 L651.4,73.0 L650.6,73.3 L649.7,73.7 L648.8,74.2 L647.8,74.9 L646.6,75.7 L645.3,76.6 L643.8,77.7 L642.2,78.9 L640.6,80.2 L639.0,81.5 L637.4,82.9 L635.9,84.3 L634.4,85.7 L632.8,87.3 L631.2,89.0 L629.6,90.7 L628.1,92.4 L626.8,93.8 L625.7,95.1 L624.9,96.0Z"/>
<path d="M714.5,84.4 L715.8,83.4 L717.4,82.1 L719.4,80.5 L721.5,78.7 L723.8,76.9 L726.0,75.1 L728.1,73.4 L730.0,71.9 L731.8,70.6 L733.4,69.4 L735.0,68.2 L736.6,67.1 L738.1,66.0 L739.7,65.1 L741.2,64.2 L742.7,63.4 L744.3,62.6 L745.9,61.9 L747.6,61.2 L749.2,60.6 L750.8,60.1 L752.3,59.7 L753.8,59.4 L755.1,59.2 L756.4,59.1 L757.7,59.2 L758.9,59.3 L760.1,59.5 L761.2,59.8 L762.2,60.1 L763.1,60.6 L763.9,61.0 L764.6,61.4 L765.2,62.0 L766.0,62.7 L766.6,63.6 L767.3,64.5 L767.9,65.4 L768.4,66.1 L768.9,66.7 L772.1,64.3 L771.8,63.8 L771.4,63.1 L770.8,62.2 L770.1,61.1 L769.3,60.0 L768.4,58.9 L767.3,57.9 L766.1,57.0 L764.8,56.5 L763.5,56.1 L762.2,55.7 L760.8,55.5 L759.3,55.4 L757.8,55.3 L756.2,55.4 L754.7,55.6 L753.1,55.9 L751.4,56.3 L749.7,56.9 L748.0,57.5 L746.3,58.2 L744.6,58.9 L742.9,59.8 L741.3,60.6 L739.7,61.6 L738.1,62.6 L736.5,63.7 L735.0,64.9 L733.4,66.1 L731.9,67.4 L730.3,68.7 L728.6,70.1 L726.7,71.6 L724.6,73.4 L722.4,75.3 L720.2,77.2 L718.1,79.0 L716.2,80.7 L714.6,82.1 L713.5,83.2Z"/>
<path d="M586.7,33.1 L586.2,33.8 L585.5,34.9 L584.7,36.1 L583.9,37.5 L583.0,39.0 L582.1,40.5 L581.3,41.9 L580.5,43.3 L579.7,44.5 L579.0,45.8 L578.2,47.1 L577.5,48.4 L576.8,49.7 L576.2,50.8 L575.5,51.9 L575.0,52.9 L574.5,53.9 L574.1,54.8 L573.8,55.6 L573.5,56.3 L573.3,56.9 L573.0,57.5 L572.8,58.0 L572.6,58.4 L572.5,58.9 L572.5,59.4 L572.5,59.8 L572.5,60.1 L572.5,60.4 L572.5,60.7 L572.6,61.0 L572.6,61.2 L576.4,62.8 L576.6,62.7 L576.8,62.5 L577.0,62.3 L577.2,62.1 L577.5,61.8 L577.8,61.4 L578.1,61.0 L578.4,60.6 L578.6,60.0 L578.7,59.4 L578.9,58.8 L579.0,58.2 L579.2,57.5 L579.5,56.8 L579.7,56.0 L580.0,55.1 L580.3,54.0 L580.7,52.8 L581.1,51.5 L581.5,50.2 L582.0,48.8 L582.5,47.5 L583.0,46.1 L583.5,44.7 L584.1,43.4 L584.8,41.8 L585.5,40.3 L586.2,38.7 L586.9,37.3 L587.5,35.9 L588.0,34.8 L588.3,33.9Z"/>
<path d="M455.8,8.6 L456.7,8.3 L457.7,8.0 L459.0,7.6 L460.4,7.1 L461.9,6.6 L463.4,6.1 L464.9,5.7 L466.4,5.4 L467.8,5.1 L469.3,4.9 L470.8,4.7 L472.3,4.5 L473.8,4.4 L475.4,4.3 L476.9,4.2 L478.5,4.1 L480.1,4.0 L481.8,3.8 L483.6,3.7 L485.4,3.7 L487.1,3.6 L488.7,3.6 L490.0,3.5 L491.0,3.5 L491.0,0.1 L490.0,0.1 L488.7,0.0 L487.2,-0.1 L485.4,-0.1 L483.6,-0.2 L481.7,-0.2 L479.8,-0.2 L478.1,-0.1 L476.5,0.1 L474.9,0.4 L473.3,0.7 L471.7,1.0 L470.2,1.4 L468.6,1.8 L467.1,2.2 L465.6,2.6 L464.1,3.1 L462.6,3.7 L461.0,4.3 L459.6,4.9 L458.2,5.5 L457.0,6.0 L455.9,6.5 L455.2,6.8Z"/>
<path d="M438.2,148.4 L439.0,149.2 L439.9,150.3 L441.1,151.7 L442.4,153.2 L443.9,154.7 L445.3,156.2 L446.8,157.7 L448.1,159.0 L449.5,160.1 L450.8,161.3 L452.1,162.4 L453.5,163.4 L454.9,164.4 L456.3,165.3 L457.8,166.2 L459.3,167.0 L460.9,167.7 L462.4,168.2 L464.0,168.7 L465.5,169.1 L467.1,169.5 L468.7,169.8 L470.4,170.2 L472.1,170.5 L473.9,170.8 L475.8,171.2 L477.7,171.5 L479.7,171.9 L481.8,172.1 L483.8,172.4 L485.9,172.6 L487.9,172.8 L489.8,172.9 L491.8,173.0 L493.7,173.1 L495.7,173.1 L497.7,173.1 L499.7,173.0 L501.9,172.8 L504.1,172.6 L506.5,172.2 L508.9,171.8 L511.4,171.4 L514.0,170.8 L516.6,170.2 L519.2,169.6 L521.8,169.0 L524.5,168.3 L527.1,167.7 L529.8,167.0 L532.6,166.2 L535.3,165.5 L538.1,164.7 L540.9,163.9 L543.6,163.1 L546.4,162.2 L549.2,161.4 L552.0,160.5 L554.9,159.5 L557.7,158.6 L560.5,157.6 L563.3,156.7 L566.0,155.9 L568.6,155.1 L571.2,154.3 L573.9,153.6 L576.5,152.9 L579.1,152.2 L581.5,151.6 L583.9,151.0 L586.2,150.5 L588.2,150.0 L590.1,149.6 L591.8,149.2 L593.4,148.9 L594.8,148.6 L596.1,148.4 L597.4,148.2 L598.8,148.1 L600.2,148.0 L601.6,147.9 L603.1,147.9 L604.5,147.9 L605.9,148.0 L607.3,148.0 L608.7,148.2 L610.1,148.4 L611.5,148.7 L612.9,149.1 L614.4,149.5 L615.9,150.0 L617.3,150.5 L618.7,151.1 L620.1,151.7 L621.2,152.4 L622.3,153.1 L623.2,153.8 L624.2,154.6 L625.0,155.5 L625.8,156.4 L626.5,157.3 L627.1,158.2 L627.6,159.2 L628.0,160.1 L628.3,161.0 L628.5,162.1 L628.6,163.3 L628.7,164.5 L628.7,165.7 L628.6,167.0 L628.4,168.1 L628.2,169.1 L627.8,170.0 L627.4,171.0 L626.9,171.9 L626.3,172.8 L625.6,173.7 L624.9,174.5 L624.2,175.2 L623.5,175.7 L622.8,176.1 L621.9,176.5 L621.0,176.8 L620.0,177.1 L619.0,177.2 L618.1,177.3 L617.2,177.3 L616.4,177.3 L615.7,177.1 L615.0,176.8 L614.2,176.4 L613.3,175.9 L612.5,175.3 L611.8,174.7 L611.0,174.1 L610.5,173.6 L610.2,173.3 L610.1,173.0 L609.9,172.7 L609.8,172.3 L609.6,171.9 L609.5,171.4 L609.3,170.9 L609.1,170.4 L602.9,173.6 L603.0,173.8 L603.2,174.0 L603.4,174.6 L603.8,175.2 L604.3,176.0 L604.9,176.8 L605.6,177.6 L606.5,178.4 L607.3,179.0 L608.2,179.6 L609.2,180.2 L610.3,180.9 L611.6,181.5 L612.8,182.1 L614.2,182.5 L615.6,182.7 L617.0,182.8 L618.4,182.8 L619.8,182.7 L621.2,182.4 L622.6,182.1 L623.9,181.6 L625.3,181.0 L626.5,180.3 L627.7,179.5 L628.8,178.5 L629.9,177.5 L630.8,176.3 L631.8,175.1 L632.6,173.7 L633.3,172.3 L633.8,170.9 L634.3,169.4 L634.6,167.9 L634.8,166.2 L634.9,164.6 L634.9,162.9 L634.8,161.2 L634.5,159.5 L634.0,157.9 L633.4,156.4 L632.6,155.0 L631.7,153.6 L630.7,152.3 L629.6,151.1 L628.4,150.0 L627.1,148.9 L625.7,147.9 L624.2,147.1 L622.7,146.3 L621.0,145.6 L619.3,145.0 L617.6,144.5 L615.9,144.0 L614.2,143.6 L612.5,143.3 L610.9,143.0 L609.3,142.9 L607.7,142.8 L606.1,142.7 L604.5,142.7 L602.9,142.8 L601.4,142.9 L599.8,143.0 L598.3,143.1 L596.8,143.3 L595.3,143.6 L593.9,143.8 L592.4,144.2 L590.8,144.5 L589.1,144.9 L587.2,145.4 L585.1,145.9 L582.8,146.5 L580.4,147.2 L577.9,147.8 L575.3,148.6 L572.7,149.3 L570.0,150.1 L567.4,150.9 L564.7,151.8 L562.0,152.7 L559.2,153.6 L556.4,154.6 L553.5,155.6 L550.7,156.6 L547.9,157.5 L545.2,158.4 L542.5,159.2 L539.7,160.1 L537.0,160.9 L534.2,161.7 L531.5,162.5 L528.8,163.2 L526.2,164.0 L523.5,164.7 L520.9,165.3 L518.3,166.0 L515.7,166.6 L513.2,167.2 L510.7,167.8 L508.3,168.3 L505.9,168.7 L503.7,169.0 L501.5,169.3 L499.5,169.4 L497.6,169.5 L495.7,169.5 L493.8,169.5 L491.9,169.4 L490.0,169.3 L488.1,169.2 L486.2,169.1 L484.2,168.9 L482.2,168.7 L480.2,168.4 L478.3,168.1 L476.4,167.8 L474.5,167.4 L472.7,167.1 L471.0,166.8 L469.4,166.5 L467.8,166.2 L466.3,165.8 L464.9,165.5 L463.5,165.1 L462.1,164.6 L460.7,164.0 L459.3,163.3 L457.9,162.6 L456.6,161.8 L455.2,161.0 L453.9,160.0 L452.5,159.1 L451.2,158.1 L449.9,157.0 L448.5,155.9 L447.0,154.5 L445.5,153.1 L444.1,151.6 L442.7,150.2 L441.5,148.9 L440.4,147.8 L439.6,147.0Z"/>
<path d="M469.3,177.8 L470.1,178.0 L471.1,178.3 L472.3,178.6 L473.7,179.0 L475.1,179.3 L476.7,179.7 L478.3,180.0 L479.8,180.3 L481.4,180.5 L483.2,180.8 L485.0,181.0 L486.8,181.2 L488.6,181.4 L490.5,181.5 L492.3,181.6 L494.0,181.7 L495.6,181.7 L497.0,181.8 L498.4,181.7 L499.8,181.7 L501.3,181.6 L502.8,181.4 L504.5,181.2 L506.4,180.9 L508.5,180.4 L510.7,179.9 L513.0,179.3 L515.5,178.6 L518.0,178.0 L520.5,177.3 L523.0,176.6 L525.5,175.9 L528.1,175.2 L530.7,174.5 L533.4,173.8 L536.2,173.1 L538.9,172.4 L541.5,171.7 L544.0,171.0 L546.3,170.3 L548.4,169.7 L550.4,169.1 L552.3,168.5 L554.0,167.9 L555.7,167.4 L557.3,166.9 L558.8,166.4 L560.4,166.0 L562.0,165.7 L563.5,165.4 L565.0,165.1 L566.5,164.9 L568.0,164.7 L569.4,164.5 L570.7,164.4 L572.0,164.3 L573.3,164.3 L574.4,164.3 L575.6,164.4 L576.6,164.5 L577.7,164.6 L578.7,164.8 L579.7,165.0 L580.6,165.2 L581.5,165.5 L582.5,165.9 L583.4,166.3 L584.3,166.8 L585.2,167.3 L586.0,167.7 L586.7,168.1 L587.2,168.3 L588.2,166.7 L587.7,166.4 L587.1,165.9 L586.3,165.4 L585.5,164.9 L584.5,164.3 L583.5,163.7 L582.5,163.2 L581.4,162.8 L580.3,162.4 L579.3,162.1 L578.2,161.9 L577.0,161.7 L575.8,161.5 L574.6,161.4 L573.3,161.3 L572.0,161.3 L570.6,161.3 L569.1,161.3 L567.7,161.4 L566.1,161.6 L564.5,161.7 L562.9,162.0 L561.3,162.2 L559.6,162.6 L557.9,162.9 L556.3,163.4 L554.6,163.9 L552.9,164.4 L551.1,164.9 L549.3,165.5 L547.4,166.1 L545.3,166.7 L543.0,167.3 L540.5,167.9 L537.9,168.6 L535.2,169.3 L532.5,170.0 L529.7,170.7 L527.1,171.4 L524.5,172.1 L522.0,172.8 L519.4,173.5 L516.9,174.2 L514.4,174.9 L512.0,175.6 L509.7,176.2 L507.6,176.7 L505.6,177.1 L503.9,177.5 L502.3,177.7 L500.9,177.9 L499.6,178.1 L498.3,178.2 L496.9,178.2 L495.5,178.3 L494.0,178.3 L492.4,178.3 L490.6,178.3 L488.8,178.3 L487.0,178.2 L485.2,178.1 L483.4,178.0 L481.7,177.8 L480.2,177.7 L478.6,177.6 L477.1,177.4 L475.6,177.1 L474.1,176.9 L472.7,176.7 L471.5,176.5 L470.5,176.3 L469.7,176.2Z"/>
<text x="430.2 440.2 455.8 470.6 503.6 518.7 534.5 563 577.8 592.6 607.2 626" y="136" font-family="Liberation Sans, sans-serif" font-weight="bold" font-size="17.5" fill="#1a1a1a">ideeperbagno</text>
</g>
<g id="d1" fill="none" stroke="#000" stroke-linejoin="round" stroke-linecap="butt">
<!-- dimension lines (thin) -->
<g stroke-width="1.1">
 <path d="M140.6,648 V704"/>
 <path d="M140.6,654.5 H323.5"/>
 <path d="M325.7,684.7 H467.5 M400,872.8 H467.5"/>
 <path d="M460.9,684.7 V872.8"/>
 <path d="M92.2,917 V1030 M431.2,934 V1030"/>
 <path d="M92.2,1024.4 H431.2"/>
 <path d="M231,979 H431.2"/>
 <path d="M211.4,931 V960 M251.4,931 V960"/>
 <path d="M159.8,953.5 H272.7"/>
 <path d="M301,872.7 H440"/>
</g>
<!-- center lines dash-dot -->
<g stroke-width="1.1" stroke-dasharray="9,3,2,3">
 <path d="M323.8,648 V918"/>
 <path d="M231.8,838 V986"/>
</g>
<!-- arrows -->
<g fill="#000" stroke="none">
 <path d="M140.6,654.5 l12.5,-1.9 v3.8z"/>
 <path d="M323.5,654.5 l-12.5,-1.9 v3.8z"/>
 <path d="M460.9,684.7 l-1.9,12.5 h3.8z"/>
 <path d="M460.9,872.8 l-1.9,-12.5 h3.8z"/>
 <path d="M92.2,1024.4 l12.5,-1.9 v3.8z"/>
 <path d="M431.2,1024.4 l-12.5,-1.9 v3.8z"/>
 <path d="M231,979 l12.5,-1.9 v3.8z"/>
 <path d="M431.2,979 l-12.5,-1.9 v3.8z"/>
 <path d="M211.4,953.5 l-12.5,-1.9 v3.8z"/>
 <path d="M251.4,953.5 l12.5,-1.9 v3.8z"/>
</g>
<!-- dimension text -->
<g fill="#000" stroke="#000" stroke-width="0.35" font-family="Liberation Serif, serif" font-size="13.4">
 <text x="232.3" y="650.6" text-anchor="middle">95</text>
 <text x="262.2" y="1021" text-anchor="middle">176</text>
 <text x="331" y="975.8" text-anchor="middle">104</text>
 <text x="160.7" y="950.5" letter-spacing="0.3">G1/2</text>
 <text transform="translate(458.7,779) rotate(-90)" text-anchor="middle">98</text>
</g>
<!-- handle -->
<g stroke-width="2.53">
 <circle cx="150.3" cy="710.8" r="9.6"/>
 <path d="M159,703.5 h2.4 v14.3 h-2.4z" fill="#000"/>
 <path d="M161.4,705 h5.5 v11.5 h-5.5z"/>
 <path d="M166.9,702.5 h3.2 v16.2 h-3.2z" fill="#000"/>
 <path d="M170.1,701.6 L177.8,694.2 V726 L170.1,719.6" />
 <path d="M172.6,699.6 V721.4 M175.2,697 V723.8"/>
 <path d="M177.8,694.2 C183,690 194,687 204.3,686.4 C208,686.2 211,686.3 213.4,686.4 L282.4,694.2"/>
 <path d="M177.8,726 C183,730 194,734.5 204.3,735.2 C208,735.3 211,735 213.4,734.7 L282.4,727.3"/>
 <path d="M213.4,686.4 V734.7"/>
 <path d="M282.4,692.4 h3.6 v36.8 h-3.6z"/>
 <path d="M286,695.2 C292,696 297,700 305.6,701.4"/>
 <path d="M286,727.8 C292,726 297,720.5 306.7,719.2"/>
 <path d="M305.8,701.6 C312,704 313.5,714 306.8,719.2"/>
</g>
<!-- hub -->
<g stroke-width="2.53">
 <path d="M312.1,690.8 C315,686 320,684.3 323.9,684.3 C328,684.3 333,686 335.6,690.8"/>
 <rect x="304.6" y="691.4" width="38.8" height="4.8" rx="2" stroke-width="2.42" fill="#222"/>
 <path d="M306.2,696.5 C306.5,706 307.2,718 307.8,727 M342.8,696.5 C341.2,704 340,716 338.8,727"/>
 <path d="M307.5,727.8 H339.2" stroke-width="3.3"/>
 <rect x="305.6" y="729.6" width="36.6" height="3.4" rx="1.7" stroke-width="1.76"/>
 <path d="M307,734.6 H341"/>
 <path d="M306.1,734.6 C300,741 290,746 280.7,748.8 M341.7,734.6 C348,741 358,746 368.4,748.8"/>
 <path d="M280.4,750 H368.6" stroke-width="3.3"/>
 <path d="M280.7,751 V783.8 H323.9 L367.8,764.2 V751"/>
 <path d="M280.5,753 C277,756 276.5,766 280.5,769 z" fill="#000"/>
 <path d="M356.5,769.5 C359.5,775 362.3,783 363.6,790"/>
 <path d="M285.6,785 L284.4,790"/>
 <path d="M280.8,790.6 H366.8" stroke-width="3.3"/>
 <path d="M281.3,791 V844 M366.7,791 V843"/>
</g>
<!-- elbow + pipe + nut + flange -->
<g stroke-width="2.42">
 <path d="M281.5,843.6 C290,841 298,838 303.8,834.7 C310,830 317,825.7 324.2,825.7 C335,825.5 348,832 356.8,842.4"/>
 <path d="M282.8,844.3 C278,851 276.4,858 276.4,866 C276.4,877 277,884 279,888 C283,895 293,901 305.7,907.4"/>
 <path d="M303.8,834.7 L305.7,841"/>
 <path d="M263,853.6 H272 C278,853.4 284,851.5 290,849.2 C297,846.5 302,843 305.7,840.4 C312,837 318,835.3 324.2,835.3 C335,835.3 345,837.5 353,842"/>
 <path d="M296.8,849.4 C292,855 290.4,860 290.4,866 L290.4,877.4 C290.6,885 293,893 301.9,901.7 C307,906 315,909.5 324.2,910.6 C333,911 342,909.5 352,903"/>
 <path d="M360.1,844 C350,843 340,842 330,842.2 C311,843 299.4,856 299.4,872.5 C299.4,889 311,902.3 328,902.3 C338,902.3 350,901.6 360.1,901.4"/>
 <path d="M278.3,888.3 L291,884.5"/>
 <path d="M358.5,843.5 C355.5,858 355.5,888 358.5,902 M368.3,843.2 V902.3 M358.5,843.5 H368.3 M358.5,902 H368.3"/>
 <path d="M370.5,843.2 V902.3" stroke-width="3.52"/>
 <path d="M372.6,843.2 H400.3 V902.3 H372.6z"/>
 <path d="M375,844 C372.5,852 372.5,865 375,872 C372.5,880 372.5,894 375,901.5"/>
 <path d="M397,844 C399.5,852 399.5,865 397,872 C399.5,880 399.5,894 397,901.5"/>
 <path d="M400.3,843.2 L417.5,813.6 M400.3,902.3 L417.5,931"/>
 <rect x="417.5" y="812.8" width="14.8" height="119.8"/>
 <path d="M418.3,813 V932.4" stroke-width="3.52"/>
</g>
<!-- spout -->
<g stroke-width="2.53">
 <path d="M92.3,916 C92.3,896 96,880 110,868 C124,857 140,853.8 163.4,853.8 H272" stroke-width="2.86"/>
 <path d="M97.8,894 L278.3,888.3"/>
 <path d="M94.1,917.6 L201.7,909.4 M261.8,907.6 L305.7,907.4"/>
 <path d="M164.3,855.7 V910.4"/>
 <path d="M92.3,914 V918"/>
</g>
<!-- diverter knob -->
<g stroke-width="2.53">
 <path d="M210.8,814.6 C206,813 206,808 209,806.5 C214,803.5 222,802.8 231.8,802.8 C242,802.8 250,803.5 254.5,806.5 C257.5,808 257.5,813 252.7,814.6 z"/>
 <path d="M208.5,811 H255"/>
 <path d="M211.5,816.6 H252.2" stroke-width="2.86"/>
 <path d="M213.5,817.4 V846.5 H250 V817.4"/>
 <path d="M220.8,846.5 V853 M241.8,846.5 V853"/>
</g>
<!-- aerator -->
<g stroke-width="2.53">
 <path d="M201.7,909.4 C210,902 220,898.5 231.8,898.5 C244,898.5 254,902 261.8,907.6 C262,910 261,912.5 260,913.1 H203.5 C202.5,912.5 201.5,911 201.7,909.4z"/>
 <rect x="210.8" y="913.1" width="41" height="18.2" fill="#000" stroke="none"/>
</g>
</g>

<g id="d2" fill="none" stroke="#000" stroke-width="2.53" stroke-linejoin="round" stroke-linecap="round">
<g id="d2half">
 <!-- flange circle -->
 <path d="M772.3,837.7 A59.5,59.5 0 1 0 772.3,907.5"/>
 <!-- hex -->
 <path d="M706.7,844 L690.3,873 L706.7,901.7"/>
 <path d="M709,844.5 C700,853 695.2,865 695.2,873 C695.2,881 700,893 709,901.2" stroke-width="1.76"/>
 <path d="M695.2,873 H714.1" stroke-width="1.98"/>
 <!-- arm -->
 <path d="M706.7,844 L817.5,834.8"/>
 <path d="M706.7,901.7 L835.8,910.3"/>
 <path d="M728.8,843 C719,852 714.9,862 714.9,872.5 C714.9,883 719,893 728.8,902.6"/>
 <!-- body side to knob base -->
 <path d="M826.3,790.5 V827.5 C828,833 833,839 839.5,842.1 C843,843.2 846,843.3 849,843.3"/>
 <!-- collar band -->
 <path d="M817.5,834.8 C820.5,832.5 824,830 826.3,827.8" stroke-width="2.2"/>
 <path d="M822.3,843.4 C825,841 828,838.5 830.7,836.8" stroke-width="2.2"/>
 <path d="M817.5,834.8 L822.3,843.4" stroke-width="2.2"/>
 <!-- cradle side -->
 <path d="M817.5,843 C815.5,850 814.5,860 814.3,870 C814.2,878 814.2,884 815,888 C817,894 822,898 827.5,900.5" stroke-width="2.2"/>
 <path d="M818.2,844 L829.2,851.7" stroke-width="2.2"/>
 <path d="M828.5,852 V899.5" stroke-width="2.64"/>
 <path d="M815.3,883.9 L827.5,885.4" stroke-width="1.98"/>
 <!-- U double line -->
 <path d="M829.6,853 V893 C829.6,905 847,914.8 868.3,914.8" stroke-width="2.42"/>
 <path d="M833.1,853 V891 C833.1,903 849,911.5 868.3,911.5" stroke-width="2.42"/>
 <!-- top bar of U region -->
 <path d="M830.5,853.1 H868.3" stroke-width="2.86"/>
 <path d="M836,856 H843.4" stroke-width="1.76"/>
 <path d="M844.6,855 L845.2,876.6" stroke-width="2.2"/>
 <!-- lever D shape -->
 <path d="M868.3,877.7 H841 C837.8,878 836.3,882 836.6,888 C838,897 851,904.4 868.3,904.4" stroke-width="2.64"/>
 <path d="M857.6,847.5 L857.2,852.4" stroke-width="1.98"/>
 <!-- top region box -->
 <path d="M824.8,751 C824,760 824.3,775 825,784.3 H868.3" />
 <path d="M829.7,785 L830.6,790.2"/>
 <path d="M825.3,790.4 H868.3" stroke-width="3.08"/>
 <path d="M823.7,749.9 H868.3" stroke-width="3.3"/>
 <path d="M824.2,748.8 C832,746 842,741 850.5,735.6"/>
 <path d="M849.4,729.6 C848.5,731.5 849.5,734.5 851.2,735.2 H868.3" stroke-width="1.98"/>
 <!-- knob -->
 <path d="M849.7,845.6 V816.2 M849.4,845.6 H868.3"/>
 <path d="M846,812.8 C842.5,811.5 842,806 844.5,804.5 C850,802.5 858,802.2 868.3,802.2"/>
 <path d="M844.5,809.6 H868.3" stroke-width="2.2"/>
 <path d="M846,812.8 L849.7,815.2 H868.3" stroke-width="2.86"/>
</g>
<use href="#d2half" transform="translate(1736.6,0) scale(-1,1)"/>
<!-- center pieces -->
<path d="M861.4,684.8 H875.3 L886.3,691.5 C891,697 893.1,703 893.1,709.5 C893.1,722.8 882,733.4 868.3,733.4 C854.6,733.4 843.5,722.8 843.5,709.5 C843.5,703 845.6,697 850.3,691.5 Z"/>
<circle cx="868.3" cy="710.8" r="17.4" stroke-width="2.2"/>
<circle cx="868.3" cy="711" r="11.8" stroke-width="4.62"/>
<circle cx="868.3" cy="760.8" r="8.6" stroke-width="2.53"/>
<path d="M858.1,845.6 V852.2 M878.4,845.6 V852.2" stroke-width="1.98"/>
<path d="M868.8,907.4 V911" stroke-width="1.76"/>
<rect x="847.2" y="915.2" width="41.6" height="16.3" rx="1.5" fill="#000" stroke="none"/>
</g>

<g id="d3" fill="none" stroke="#000" stroke-width="2.53" stroke-linejoin="round" stroke-linecap="round">
<!-- dims -->
<g stroke-width="1.1" stroke-linecap="butt">
 <path d="M723.5,989 V1057 M1012.9,989 V1057"/>
 <path d="M723.5,997 H1012.9"/>
 <path d="M664,1033 V1057 M783.4,1033 V1057"/>
 <path d="M664,1040 H832.4"/>
</g>
<g stroke-width="1.1" stroke-dasharray="14,3,3,3" stroke-linecap="butt">
 <path d="M723.8,1057 V1131 M1012.9,1057 V1131"/>
</g>
<g fill="#000" stroke="none">
 <path d="M723.5,997 l12.5,-1.9 v3.8z"/>
 <path d="M1012.9,997 l-12.5,-1.9 v3.8z"/>
 <path d="M664,1040 l12.5,-1.9 v3.8z"/>
 <path d="M783.4,1040 l-12.5,-1.9 v3.8z"/>
</g>
<g fill="#000" stroke="#000" stroke-width="0.35" font-family="Liberation Serif, serif" font-size="13.4">
 <text x="868.5" y="994.6" text-anchor="middle">150</text>
 <text x="818.8" y="1036.9">62</text>
</g>
<g stroke-width="1.3">
 <circle cx="810.6" cy="1032" r="5.2"/>
 <path d="M805.5,1039 L816,1025"/>
</g>
<g id="d3half">
 <!-- plate + cone -->
 <rect x="664" y="1057.6" width="119.4" height="14.2" stroke-width="2.42"/>
 <path d="M664.5,1071.8 H783" stroke-width="3.3"/>
 <path d="M664.5,1072.3 L696.1,1089.3 M783,1072.3 L752.3,1089.3"/>
 <!-- nut -->
 <path d="M694,1089.3 H754.5" stroke-width="3.3"/>
 <path d="M693,1091.2 C690,1094 689.8,1112 691.2,1114.5 C693,1115.5 704,1115.5 707.1,1114.5 C705.5,1110 705.5,1095 707.1,1090.8 M707.1,1090.8 C715,1089.8 732,1089.8 740.2,1090.8 M707.1,1114.5 C715,1116 732,1116 740.2,1114.5 M740.2,1090.8 C741.8,1095 741.8,1110 740.2,1114.5 C744,1115.5 754,1115.5 757.2,1114.5 C758.5,1112 758.5,1094 755.5,1091.2"/>
 <path d="M695.5,1118.6 H754.7" stroke-width="4.4"/>
 <!-- body arm -->
 <path d="M695.5,1121 V1154.7 C695.5,1168 698,1182 713.7,1189.3 L816.7,1199.4"/>
 <path d="M714.6,1189.3 L760.2,1129.2"/>
 <path d="M696.4,1131.9 L752.9,1121" stroke-width="2.2"/>
 <path d="M752.9,1120.5 C754,1124 756,1127 760.2,1128.3 L853.2,1121.9"/>
</g>
<use href="#d3half" transform="translate(1736.8,0) scale(-1,1)"/>
<!-- hub -->
<circle cx="868.3" cy="1163.6" r="42" stroke-width="3.3"/>
<path id="d3arc" d="M842,1125.5 C826,1136 816.6,1150 816.6,1164 C816.6,1172 819,1179 823,1184.5" stroke-width="2.2"/>
<use href="#d3arc" transform="translate(1736.6,0) scale(-1,1)"/>
<circle cx="868.3" cy="1165.5" r="18.6" stroke-width="2.86"/>
<circle cx="868.3" cy="1165.8" r="12" stroke-width="2.86"/>
<path d="M860,1184 C859.5,1192 856,1199 851,1204.4 M876.6,1184 C877.1,1192 880.6,1199 885.6,1204.4" stroke-width="2.2"/>
<path d="M851,1205 H885.5" stroke-width="3.3"/>
<!-- side brackets -->
<g id="d3br" stroke-width="2.2">
 <path d="M815.4,1198.4 L817.6,1184.5 H826.9"/>
 <path d="M820.3,1186.4 L828.5,1202.8"/>
 <path d="M825.2,1185.9 C832,1196 840,1206 850.4,1213.2"/>
 <path d="M829.6,1214.9 H851.5" stroke-width="1.98"/>
 <path d="M816.7,1199.4 C821,1200 826,1204 828.3,1208.3"/>
</g>
<use href="#d3br" transform="translate(1736.6,0) scale(-1,1)"/>
<!-- spout top view -->
<path d="M828,1207 C827.2,1260 827.6,1340 828.9,1390 C829,1394 831,1396.5 835,1396.5 H901.6 C905.6,1396.5 907.6,1394 907.7,1390 C909,1340 909.4,1260 908.6,1207" stroke-width="2.86"/>
<path d="M831.7,1304.3 H906.6" stroke-width="1.98"/>
<path d="M833.8,1391.8 V1326 C833.8,1321 836,1319 840,1319 H897.6 C901.6,1319 903.8,1321 903.8,1326 V1391.8 Z" stroke-width="2.42"/>
<path d="M834.5,1324.6 H903.1" stroke-width="1.98"/>
<!-- lever -->
<path d="M852,1205.6 C849,1225 846,1240 845.5,1250 C843.5,1262 844,1280 846.4,1295 C848,1302 850.5,1307 853.4,1310.6 H882.8 C886,1307 888.5,1302 890,1295 C892.5,1280 893,1262 891,1250 C890.5,1240 887.5,1225 884.4,1205.6" stroke-width="2.53"/>
<path d="M846.5,1244 C843.5,1250 843.5,1262 845,1267 M889.9,1244 C892.9,1250 892.9,1262 891.4,1267" stroke-width="2.86"/>
<path d="M844.5,1275.6 H892" stroke-width="1.98"/>
<path d="M854.1,1312 H882.1" stroke-width="3.3"/>
<path d="M856.5,1313.5 C857,1316 858.5,1318 860.4,1321.8 M880,1313.5 C879.5,1316 878,1318 876,1321.8" stroke-width="1.98"/>
<path d="M863.2,1322 V1329.5 M874.4,1322 V1329.5 M861,1322 H875.6" stroke-width="1.98"/>
<path d="M862,1329.8 H874.6" stroke-width="2.86"/>
<circle cx="868.4" cy="1339.5" r="10" stroke-width="2.42"/>
</g>

<g id="d4" fill="none" stroke="#000" stroke-width="2.42" stroke-linejoin="round" stroke-linecap="round">
<!-- A. wall flange -->
<path d="M84,1216.5 C78,1213.5 70,1213.5 63,1216 C45,1223 28,1250 23.5,1280 C20,1305 27,1323 40,1329.5 C45,1332 50,1333 55,1332.5"/>
<path d="M110.8,1263.3 L110.6,1258.6 L110.1,1254.0 L109.3,1249.6 L108.3,1245.4 L107.0,1241.4 L105.5,1237.7 L103.8,1234.2 L101.8,1231.0 L99.6,1228.1 L97.2,1225.6 L94.7,1223.4 L91.9,1221.6 L89.1,1220.1 L86.1,1219.1 L83.1,1218.5 L79.9,1218.2 L76.8,1218.4 L73.5,1219.0 L70.3,1220.0 L67.1,1221.4 L64.0,1223.2 L60.9,1225.3 L57.8,1227.8 L54.9,1230.7 L52.1,1233.8 L49.5,1237.3 L47.0,1241.0 L44.7,1245.0 L42.7,1249.2 L40.8,1253.6 L39.1,1258.1 L37.7,1262.8 L36.6,1267.6 L35.7,1272.4 L35.0,1277.2 L34.7,1282.0 L34.6,1286.8 L34.7,1291.5 L35.2,1296.1 L35.9,1300.5 L36.9,1304.8 L38.1,1308.8 L39.6,1312.6 L41.3,1316.2 L43.2,1319.4 L45.4,1322.4 L47.7,1325.0 L50.2,1327.2 L52.9,1329.1 L55.7,1330.6 L58.7,1331.7 L61.7,1332.4 L64.8,1332.7 L68.0,1332.6 L71.2,1332.1 L74.4,1331.2 L77.7,1329.9 L80.8,1328.2 L83.9,1326.1" stroke-width="3.08"/>
<!-- B. nut -->
<path d="M81.2,1263.2 L100.2,1251.1 L116.3,1258.2 L119.3,1262.2 M81.2,1263.2 C74,1270 69,1282 68.1,1292.2 C68.5,1300 72,1308 76.2,1313.3 L92.2,1320.3" fill="#fff"/>
<path d="M81.2,1263.2 L97.2,1268.2 L116.3,1258.2 M97.2,1268.2 L85.2,1300.3 L92.2,1320.3 M68.5,1293.5 L85.2,1300.3"/>
<!-- washer -->
<path d="M92,1318 C89,1305 90.5,1285 97,1272 C102,1264 110,1260 117,1260" stroke-width="3.52"/>
<path d="M97,1319 C94,1306 95.5,1287 101.5,1275 C106,1267 112,1264 119.5,1263.5" stroke-width="2.42"/>
<!-- C. pipe section -->
<path d="M119.5,1264 C126,1265 134,1266 140.3,1267.2 C146,1266.5 150,1262 155,1259"/>
<path d="M108.2,1270.2 C104,1278 102,1290 101.2,1305.3 C101,1310 101.8,1314 103.2,1317.3"/>
<path d="M146,1268 C152,1276 156.4,1290 158.4,1305 C159.5,1315 157.5,1324 154.4,1328.4"/>
<path d="M102.2,1304.3 C115,1307 135,1311 156.4,1315.3"/>
<path d="M104.2,1318.3 C115,1322 130,1328 152.4,1330.4 C158,1331 165,1329 170,1327"/>
<path d="M155,1259 L192.5,1236.1"/>
<path d="M170,1327 L230.6,1300.3"/>
<!-- D. main body -->
<path d="M192.5,1236.1 C195,1234 195.9,1231 195.9,1226.7 V1184.7"/>
<path d="M280.8,1192.7 V1238"/>
<path d="M195.9,1226.7 C200,1224 208,1227 217.4,1233.5 C225,1240 235,1249 250,1249.5 C262,1249.5 273,1245 280.8,1238"/>
<path d="M193.6,1235.7 C205,1242 215,1248 225.3,1252.7 C235,1258 245,1261 259.3,1259.5 C268,1258 276,1254 282,1251.6 L289,1249"/>
<path d="M228.7,1243.7 L224.2,1251.6 M262.7,1249.3 L266.1,1258.4 M277.5,1242.5 L282,1250.5" stroke-width="1.98"/>
<path d="M197,1179 C200,1190 220,1198 243.5,1199.5 C262,1200 276,1194 279.7,1188" stroke-width="3.3"/>
<path d="M196.5,1184.5 C201,1196 222,1204 243.5,1204 C262,1204 276,1198 280.8,1192.7" stroke-width="3.3"/>
<path d="M197,1153 C196,1165 196.5,1173 197.5,1181 M283.3,1152 C283,1165 282,1178 280.5,1189"/>
<path d="M196.5,1150 C197,1160 215,1168 240,1168.5 C262,1168.5 280,1162 283.3,1152" stroke-width="3.08"/>
<path d="M196,1148 C196,1140 205,1133 222,1130 M259.5,1130 C273,1133 283,1141 283.5,1151"/>
<ellipse cx="274.3" cy="1170.3" rx="4.3" ry="7.8" transform="rotate(22 274.3 1170.3)" stroke-width="2.86"/>
<!-- E. top cap -->
<ellipse cx="242.2" cy="1097" rx="19" ry="9"/>
<ellipse cx="242.2" cy="1095.6" rx="12" ry="6"/>
<path d="M224,1102 C228,1107 236,1108.8 242,1108.8 C250,1108.8 258,1106 261,1102" stroke-width="3.08"/>
<path d="M223.5,1099 C225,1108 226.5,1118 225.5,1128 M261.2,1099 C259.5,1108 258.5,1118 258.5,1128"/>
<path d="M223.3,1128 C226,1135 234,1137.5 242,1137.5 C250,1137.5 257,1135 259.5,1129" stroke-width="3.52"/>
<path d="M223.3,1132 C226,1139 234,1141.5 242,1141.5 C250,1141.5 257,1139 259.5,1133"/>
<!-- lever -->
<path d="M250.2,1112.1 L262.5,1110.3 M249,1127.5 L261.5,1131.5"/>
<path d="M251,1112.5 C247,1114 245.5,1119 246.5,1122 C247.5,1125 249,1127 250,1127.5"/>
<path d="M263,1109.5 C260,1115 259.5,1130 265,1141.5" stroke-width="3.3"/>
<path d="M266.5,1108.5 C263.5,1116 263.5,1130 268,1141.8" stroke-width="2.2"/>
<path d="M266.5,1108.5 C270,1106.5 274,1106.5 277.8,1108 L329.9,1123.4 C340,1126 350,1130 354.8,1134.1 C360,1138 363,1141 364.3,1144.8 C366,1148 365.5,1151 363,1153 L362.5,1164 C361,1168 357,1172 352.4,1173.2 C346,1173.5 338,1173.5 331.1,1172 C326,1171 320,1168 312.1,1163.7 L267.5,1141.5 C263.5,1130 263.5,1116 266.5,1108.5 Z" fill="#fff"/>

<path d="M329.9,1123.4 C320,1130 313,1140 313.3,1148 C313.5,1156 314.5,1161 315.7,1164.9"/>
<path d="M348,1137 C344,1145 343.5,1160 346,1169.5 M352,1139 C348.5,1147 348,1160 350.5,1170" stroke-width="2.2"/>
<path d="M357.5,1141 C354.5,1149 354,1160 356.5,1168" stroke-width="3.52"/>
<path d="M362,1152.5 H366.5 M361.5,1163 H366.5" stroke-width="1.98"/>
<circle cx="375.5" cy="1164.9" r="10.2"/>
<!-- F. C-loop -->
<path d="M283.5,1150.7 L285,1161.4 L301.5,1172 M290,1152 L293,1160" stroke-width="1.98"/>
<path d="M284.4,1179.7 C290,1175 296,1172 301.9,1172 C315,1171.5 325,1174 333,1178 C343,1184 350,1192 353,1200 C356,1210 356,1220 352,1228 C347,1236 340,1240 332.5,1241.5"/>
<path d="M282.2,1193.9 L310.6,1186.3 C320,1186 330,1189 336,1194 C343,1200 347,1207 347.8,1212 C348.5,1220 346,1226 341.3,1230"/>
<!-- G. diverter knob -->
<ellipse cx="311" cy="1227.5" rx="21.5" ry="8.3"/>
<ellipse cx="311" cy="1226.5" rx="16.5" ry="5.8" stroke-width="1.98"/>
<path d="M290,1230 C292,1238 302,1241.5 311,1241.5 C320,1241.5 329,1238 332,1230" stroke-width="3.3"/>
<path d="M290.4,1242 C290.4,1250 290.8,1257 291.2,1263.4 M327.6,1242 C327.4,1250 326.8,1257 326.1,1263.4"/>
<path d="M291.2,1263.4 C295,1268 302,1270 309,1270 C316,1270 322,1268 326.1,1263.4"/>
<path d="M298.2,1269 C301,1272.5 305,1273 309,1273 C314,1273 318,1272 319.9,1269" stroke-width="1.98"/>
<path d="M284.4,1223.4 C285.5,1232 286.5,1240 286.6,1247.5" stroke-width="1.98"/>
<!-- H. spout -->
<path d="M210,1230 C215,1236 220,1240 223.1,1243.1" stroke-width="1.98"/>
<path d="M223.1,1254.1 L230,1256.4 L338.5,1300.6" stroke-width="3.08"/>
<path d="M253.2,1268 L288.9,1255.6"/>
<path d="M329.2,1255.6 L400,1285.1"/>
<path d="M321.4,1292.8 L364.8,1272.7"/>
<path d="M338.5,1296.5 L375.7,1280.4 C382,1278.5 386,1279.5 390,1282"/>
<path d="M371.5,1282 V1300 M385,1283 V1307 M371.5,1300 L385,1307" stroke-width="1.98"/>
<path d="M366,1306 C370,1302 375,1302 378,1305 C380,1309 379,1313 376,1316" stroke-width="1.98"/>
<path d="M400,1285.1 C412,1292 424,1305 431,1320 C437,1335 438,1350 432,1362 C427,1370 418,1373.5 405,1373.5 C398,1373.5 393,1372 389.4,1370" stroke-width="2.86"/>
<path d="M390,1282 C405,1290 420,1303 427,1320 C432,1333 433,1348 428,1356 C424,1363 415,1367 396,1367.8" stroke-width="1.98"/>
<path d="M336.9,1300 C345,1304 352,1309 360,1316 C370,1325 378,1336 383,1348 C387,1357 389,1364 391.6,1370" stroke-width="3.3"/>
<path d="M358.8,1306.6 L428.8,1330.6 M363.1,1339.4 L430,1355" stroke-width="1.98"/>
<path d="M336.9,1300 V1335"/>
<path d="M245.5,1300.6 L336.9,1333 L391.6,1370"/>
<path d="M244.6,1301.4 C240,1302 233,1302.5 225.3,1303.7 L180,1320.7" />
<path d="M236.7,1300.3 C240,1307 246,1309 250,1309.5 L336.9,1340" stroke-width="1.98"/>
<path d="M219.7,1252.7 C225,1262 228,1272 228.7,1283.3 C229,1292 228,1297 226.5,1300.3"/>
<path d="M243.5,1267.5 C247,1274 248.5,1280 248,1287 C247.5,1293 246.5,1297 244.6,1301.4"/>
<path d="M226.5,1300.3 C230,1298 234,1298.5 236.7,1300.3"/>
<!-- I. thread -->
<path d="M285,1332 C292,1336.5 316,1336.5 324,1332 L323.5,1339.5 C316,1345.5 293,1345.5 285.5,1340 Z" fill="#000" stroke-width="1.5"/>
<path d="M277.8,1322 C280,1326 282,1329 284.5,1331" stroke-width="1.98"/>
</g>


</svg>
</body></html>
